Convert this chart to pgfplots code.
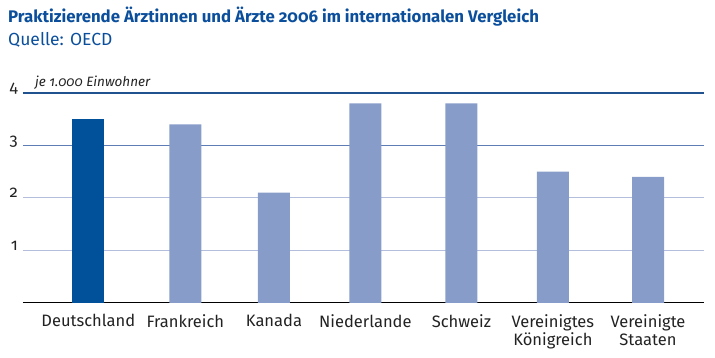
\documentclass[border=0pt]{standalone}
\usepackage{fontspec}
\setmainfont{Fira Sans}[Numbers=OldStyle]
\usepackage{pgfplots}
\pgfplotsset{compat=1.18}
\definecolor{titleblue}{HTML}{0B4F9C}
\definecolor{darkbar}{HTML}{00519A}
\definecolor{lightbar}{HTML}{889CC9}
\definecolor{gridfour}{HTML}{1F528F}
\definecolor{gridthree}{HTML}{5F7DB5}
\definecolor{gridlt}{HTML}{B3BEDD}
\definecolor{labelgray}{HTML}{222222}
\begin{document}
\begin{tikzpicture}
\path[use as bounding box] (0pt,0pt) rectangle (715pt,358pt);
\node[anchor=base west, inner sep=0, text=titleblue, font=\fontsize{16.8}{18}\selectfont\bfseries] at (8pt,335pt) {Praktizierende Ärztinnen und Ärzte 2006 im internationalen Vergleich};
\node[anchor=base west, inner sep=0, text=titleblue, font=\fontsize{17.5}{18}\selectfont] at (8pt,312pt) {Quelle: OECD};
\node[anchor=base west, inner sep=0, text=labelgray, font=\fontsize{13.5}{15}\selectfont\itshape] at (35pt,271pt) {je 1.000 Einwohner};
\begin{axis}[
  at={(23pt,55pt)}, anchor=south west,
  scale only axis, width=681pt, height=210pt,
  xmin=-0.7, xmax=6.6, ymin=0, ymax=4,
  xtick={0,1.04,1.99,2.97,4.0,4.98,6},
  xticklabels={Deutschland, Frankreich, Kanada, Niederlande, Schweiz, {Vereinigtes\\Königreich}, {Vereinigte\\Staaten}},
  ytick={1,2,3,4},
  major tick length=0pt,
  axis line style={draw=none},
  ymajorgrids,
  grid style={gridlt, line width=1pt},
  /pgf/number format/assume math mode=true,
  ticklabel style={font=\fontsize{16.5}{18}\selectfont, text=labelgray},
  xticklabel style={align=center, anchor=north, yshift=-8pt},
  yticklabel style={anchor=base east, inner sep=0pt, xshift=-5pt},
]
\draw[gridthree, line width=1pt] (axis cs:-0.7,3) -- (axis cs:6.6,3);
\draw[gridfour, line width=1.5pt] (axis cs:-0.7,4) -- (axis cs:6.6,4);
\draw[black, line width=1.5pt] (axis cs:-0.7,0) -- (axis cs:6.6,0);
\addplot[ybar, bar width=32pt, bar shift=0pt, fill=darkbar, draw=none] coordinates {(0,3.5)};
\addplot[ybar, bar width=32pt, bar shift=0pt, fill=lightbar, draw=none] coordinates {(1.04,3.4) (1.99,2.1) (2.97,3.8) (4.0,3.8) (4.98,2.5) (6,2.4)};
\end{axis}
\end{tikzpicture}
\end{document}
